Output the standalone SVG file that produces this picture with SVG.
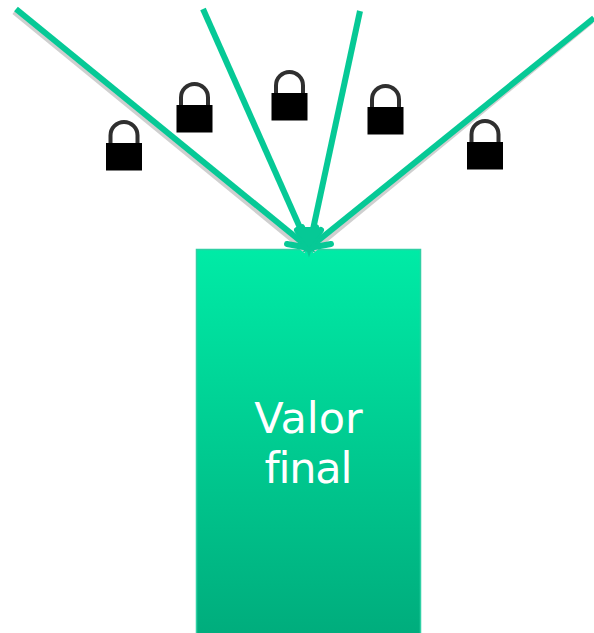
<svg xmlns="http://www.w3.org/2000/svg" width="594" height="633" viewBox="0 0 594 633">
<style>
.sh{fill:none;stroke:#cfcfcf;stroke-width:5}
.ln{fill:none;stroke:#06c996;stroke-width:6;stroke-linecap:round}
.ln2{fill:none;stroke:#06c996;stroke-width:6;stroke-linecap:butt}
.shackle{fill:none;stroke:#2f2f2f;stroke-width:4}
.t{font-family:"DejaVu Sans",Verdana,sans-serif;font-size:43px;fill:#fff;text-anchor:middle;font-variant-ligatures:none}
</style>
<defs>
<linearGradient id="g" x1="0" y1="0" x2="0" y2="1">
<stop offset="0" stop-color="#00eba6"/>
<stop offset="1" stop-color="#00ac7c"/>
</linearGradient>
<g id="lock">
<path class="shackle" d="M-13.500 0V-7.500A13.500 13.500 0 0 1 13.500 -7.500V0"/>
<rect x="-18" y="0" width="36" height="27.500" fill="#000"/>
</g>
</defs>
<g id="node-valor">
<rect x="196.500" y="249.500" width="224" height="390" fill="url(#g)" stroke="#2fd0a4" stroke-width="1.500"/>
<text class="t" x="308.500" y="433">Valor</text>
<text class="t" x="308.500" y="483" textLength="88">final</text>
</g>
<g id="connectors">
<path class="sh" d="M14 12L306 251"/>
<path class="sh" d="M592 21L312 251"/>
<path class="ln2" d="M16 9L309 248"/>
<path class="ln2" d="M203 9L309 248"/>
<path class="ln2" d="M360 11L309 248"/>
<path class="ln2" d="M594 18L309 248"/>
<path class="ln" d="M287 244L309 248L297 230M302 227L309 248L316 227M321 230L309 248L331 244"/>
<path d="M296 231L303 227L315 227L322 231L309 248Z" fill="#06c996"/>
</g>
<use id="lock-1" href="#lock" x="124" y="143"/>
<use id="lock-2" href="#lock" x="194.500" y="105"/>
<use id="lock-3" href="#lock" x="289.500" y="93"/>
<use id="lock-4" href="#lock" x="385.500" y="107"/>
<use id="lock-5" href="#lock" x="485" y="142"/>
</svg>
